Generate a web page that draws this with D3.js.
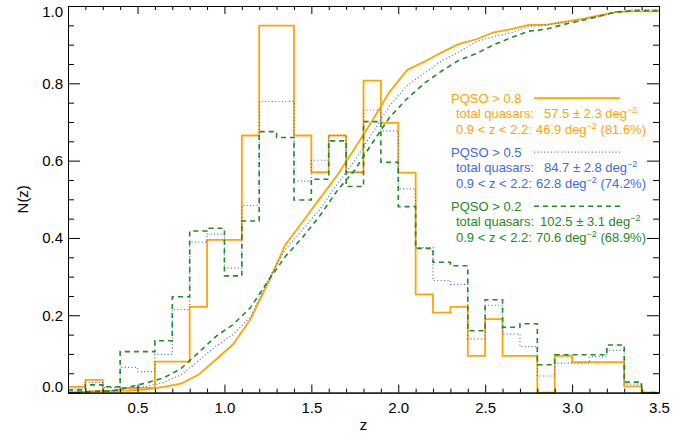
<!DOCTYPE html>
<html>
<head>
<meta charset="utf-8">
<script src="https://cdn.jsdelivr.net/npm/d3@7"></script>
<style>
  body { margin: 0; background: #fff; }
  svg { display: block; font-family: "Liberation Sans", Arial, Helvetica, sans-serif; }
  .axis path, .axis line { stroke: #000; }
  .axis text { font-size: 15px; fill: #000; }
</style>
</head>
<body>
<svg id="chart" width="697" height="434"></svg>
<script>
// bin edges in z (0.1 wide bins)
var zEdges = [0.1, 0.2, 0.3, 0.4, 0.5, 0.6, 0.7, 0.8, 0.9, 1.0, 1.1, 1.2, 1.3, 1.4, 1.5, 1.6, 1.7,
              1.8, 1.9, 2.0, 2.1, 2.2, 2.3, 2.4, 2.5, 2.6, 2.7, 2.8, 2.9, 3.0, 3.1, 3.2, 3.3, 3.4, 3.5];

// N(z) per bin
var histP08 = [0.015, 0.033, 0.003, 0.012, 0.012, 0.080, 0.080, 0.222, 0.395, 0.395, 0.665, 0.949,
               0.949, 0.665, 0.570, 0.665, 0.570, 0.807, 0.698, 0.569, 0.254, 0.207, 0.222, 0.095,
               0.190, 0.095, 0.095, 0.000, 0.095, 0.079, 0.079, 0.079, 0.016, 0.000];
var histP05 = [0.009, 0.026, 0.013, 0.065, 0.054, 0.099, 0.215, 0.389, 0.410, 0.322, 0.484, 0.753,
               0.753, 0.547, 0.601, 0.665, 0.569, 0.731, 0.677, 0.527, 0.375, 0.290, 0.280, 0.139,
               0.226, 0.151, 0.119, 0.043, 0.076, 0.076, 0.093, 0.109, 0.022, 0.000];
var histP02 = [0.007, 0.020, 0.015, 0.106, 0.106, 0.134, 0.248, 0.418, 0.425, 0.302, 0.444, 0.675,
               0.660, 0.498, 0.552, 0.651, 0.533, 0.701, 0.596, 0.481, 0.373, 0.337, 0.328, 0.160,
               0.240, 0.169, 0.178, 0.072, 0.098, 0.098, 0.098, 0.123, 0.027, 0.000];

// cumulative curves, sampled at bin centres (plus the two ends)
var zCurve = [0.10, 0.15, 0.25, 0.35, 0.45, 0.55, 0.65, 0.75, 0.85, 0.95, 1.05, 1.15, 1.25, 1.35,
              1.45, 1.55, 1.65, 1.75, 1.85, 1.95, 2.05, 2.15, 2.25, 2.35, 2.45, 2.55, 2.65, 2.75,
              2.85, 2.95, 3.05, 3.15, 3.25, 3.35, 3.45, 3.50];
var cumP08 = [0.000, 0.001, 0.004, 0.005, 0.006, 0.008, 0.015, 0.023, 0.046, 0.085, 0.125, 0.190,
              0.283, 0.382, 0.442, 0.503, 0.563, 0.632, 0.703, 0.778, 0.834, 0.856, 0.880, 0.902,
              0.914, 0.932, 0.940, 0.951, 0.951, 0.959, 0.966, 0.975, 0.984, 0.986, 0.986, 0.986];
var cumP05 = [0.000, 0.001, 0.003, 0.005, 0.011, 0.016, 0.026, 0.046, 0.082, 0.120, 0.150, 0.196,
              0.290, 0.370, 0.422, 0.474, 0.540, 0.600, 0.671, 0.741, 0.794, 0.826, 0.858, 0.882,
              0.908, 0.921, 0.931, 0.947, 0.951, 0.957, 0.962, 0.972, 0.984, 0.990, 0.990, 0.990];
var cumP02 = [0.000, 0.001, 0.003, 0.004, 0.014, 0.025, 0.038, 0.062, 0.103, 0.145, 0.176, 0.220,
              0.288, 0.352, 0.402, 0.458, 0.523, 0.576, 0.645, 0.712, 0.760, 0.800, 0.832, 0.860,
              0.877, 0.900, 0.918, 0.935, 0.940, 0.952, 0.962, 0.973, 0.984, 0.988, 0.988, 0.988];

var xTicks = [0.5, 1.0, 1.5, 2.0, 2.5, 3.0, 3.5];
var yTicks = [0.0, 0.2, 0.4, 0.6, 0.8, 1.0];

var series = [
    {name: "PQSO > 0.8", hist: histP08, cum: cumP08, color: "#FFA500", dash: null, width: 1.8,
     total: "57.5", err: "2.3", mid: "46.9", pct: "81.6%"},
    {name: "PQSO > 0.5", hist: histP05, cum: cumP05, color: "#4169E1", dash: "1,2.4", width: 1.2,
     total: "84.7", err: "2.8", mid: "62.8", pct: "74.2%"},
    {name: "PQSO > 0.2", hist: histP02, cum: cumP02, color: "#228B22", dash: "5,4", width: 1.6,
     total: "102.5", err: "3.1", mid: "70.6", pct: "68.9%"}
];

var svg = d3.select("#chart");
var plotL = 68, plotR = 659, plotT = 6, plotB = 392.6;

var x = d3.scaleLinear().domain([0.1, 3.5]).range([plotL, plotR]);
var y = d3.scaleLinear().domain([0, 1]).range([plotB, plotT]);

var xMinor = d3.range(0.1, 3.5001, 0.1).filter(function(v) { return Math.abs(v * 2 - Math.round(v * 2)) > 1e-6; });
var yMinor = d3.range(0, 1.0001, 0.05).filter(function(v) { return Math.abs(v * 5 - Math.round(v * 5)) > 1e-6; });

// histograms + cumulative curves
var stepLine = d3.line()
    .x(function(d) { return x(d[0]); })
    .y(function(d) { return y(d[1]); })
    .curve(d3.curveStepAfter);

var cumLine = d3.line()
    .x(function(d) { return x(d[0]); })
    .y(function(d) { return y(d[1]); });

series.forEach(function(s) {
    var pts = s.hist.map(function(v, i) { return [zEdges[i], v]; });
    pts.push([zEdges[zEdges.length - 1], s.hist[s.hist.length - 1]]);
    svg.append("path")
        .attr("d", stepLine(pts))
        .attr("fill", "none")
        .attr("stroke", s.color)
        .attr("stroke-width", s.width)
        .attr("stroke-dasharray", s.dash);

    var cpts = s.cum.map(function(v, i) { return [zCurve[i], v]; });
    svg.append("path")
        .attr("d", cumLine(cpts))
        .attr("fill", "none")
        .attr("stroke", s.color)
        .attr("stroke-width", s.width)
        .attr("stroke-dasharray", s.dash);
});

// axes, ticks pointing inwards
var fmt = d3.format(".1f");

svg.append("g").attr("class", "axis")
    .attr("transform", "translate(0," + plotB + ")")
    .call(d3.axisBottom(x).tickValues(xTicks).tickSize(-8).tickSizeOuter(0).tickPadding(10).tickFormat(fmt));
svg.append("g").attr("class", "axis")
    .attr("transform", "translate(0," + plotB + ")")
    .call(d3.axisBottom(x).tickValues(xMinor).tickSize(-4).tickSizeOuter(0).tickFormat(""));
svg.append("g").attr("class", "axis")
    .attr("transform", "translate(0," + plotT + ")")
    .call(d3.axisTop(x).tickValues(xTicks).tickSize(-8).tickSizeOuter(0).tickFormat(""));
svg.append("g").attr("class", "axis")
    .attr("transform", "translate(0," + plotT + ")")
    .call(d3.axisTop(x).tickValues(xMinor).tickSize(-4).tickSizeOuter(0).tickFormat(""));

var yAx = svg.append("g").attr("class", "axis")
    .attr("transform", "translate(" + plotL + ",0)")
    .call(d3.axisLeft(y).tickValues(yTicks).tickSize(-12).tickSizeOuter(0).tickPadding(5).tickFormat(fmt));
yAx.selectAll("text").attr("y", function(d) { return d === 1 ? 5.5 : (d === 0 ? -6 : 0); });
svg.append("g").attr("class", "axis")
    .attr("transform", "translate(" + plotL + ",0)")
    .call(d3.axisLeft(y).tickValues(yMinor).tickSize(-6).tickSizeOuter(0).tickFormat(""));
svg.append("g").attr("class", "axis")
    .attr("transform", "translate(" + plotR + ",0)")
    .call(d3.axisRight(y).tickValues(yTicks).tickSize(-12).tickSizeOuter(0).tickFormat(""));
svg.append("g").attr("class", "axis")
    .attr("transform", "translate(" + plotR + ",0)")
    .call(d3.axisRight(y).tickValues(yMinor).tickSize(-6).tickSizeOuter(0).tickFormat(""));

// axis titles
svg.append("text")
    .attr("x", (plotL + plotR) / 2)
    .attr("y", 430)
    .attr("text-anchor", "middle")
    .attr("font-size", 15)
    .text("z");
svg.append("text")
    .attr("transform", "translate(28," + ((plotT + plotB) / 2) + ") rotate(-90)")
    .attr("text-anchor", "middle")
    .attr("font-size", 15)
    .text("N(z)");

// legend
var legX = 451, legY = 102.7, blockH = 54;
series.forEach(function(s, i) {
    var g = svg.append("g").attr("transform", "translate(0," + (legY + i * blockH) + ")")
        .attr("fill", s.color).attr("font-size", 13);
    g.append("text").attr("x", legX).attr("y", 0).text(s.name);
    g.append("line")
        .attr("x1", 534).attr("x2", 620).attr("y1", -4.5).attr("y2", -4.5)
        .attr("stroke", s.color).attr("stroke-width", s.width)
        .attr("stroke-dasharray", s.dash);

    var t1 = g.append("text").attr("y", 15.5);
    t1.append("tspan").attr("x", legX + 5).text("total quasars:");
    t1.append("tspan").attr("x", s.total.length > 4 ? 540 : 544)
        .text(s.total + " \u00b1 " + s.err + " deg");
    t1.append("tspan").attr("dy", -5).attr("font-size", 9).text("\u22122");

    var t2 = g.append("text").attr("y", 31);
    t2.append("tspan").attr("x", legX + 5).text("0.9 < z < 2.2:");
    t2.append("tspan").attr("x", 536).text(s.mid + " deg");
    t2.append("tspan").attr("dy", -5).attr("font-size", 9).text("\u22122");
    t2.append("tspan").attr("dy", 5).text(" (" + s.pct + ")");
});
</script>
</body>
</html>
